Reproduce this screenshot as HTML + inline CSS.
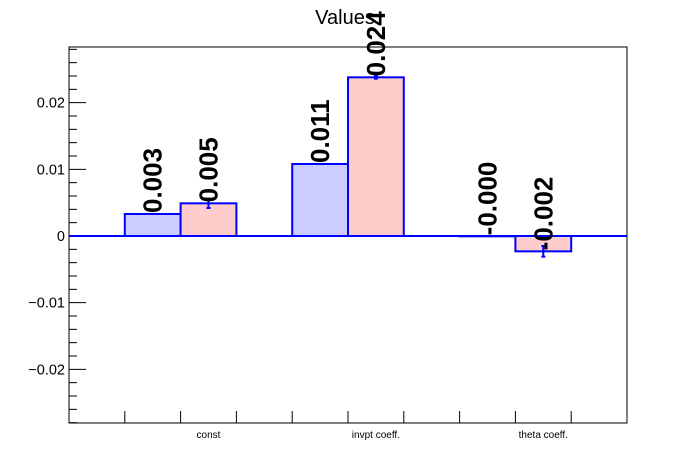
<!DOCTYPE html>
<html><head><meta charset="utf-8"><style>
html,body{margin:0;padding:0;background:#fff;}
svg{display:block;font-family:"Liberation Sans",sans-serif;}
</style></head><body>
<svg id="chart" width="696" height="472" viewBox="0 0 696 472"></svg>
<script>
const categories = ["const", "invpt coeff.", "theta coeff."];
const series1Values = [0.0033, 0.0108, -0.00005];
const series2Values = [0.0049, 0.0238, -0.0023];
const series2Errors = [0.0007, 0.0002, 0.0008];
const series1Labels = ["0.003", "0.011", "-0.000"];
const series2Labels = ["0.005", "0.024", "-0.002"];
const yTickValues = [-0.02, -0.01, 0, 0.01, 0.02];
const yTickLabels = ["\u22120.02", "\u22120.01", "0", "0.01", "0.02"];
const series1Bin = [1, 4, 7];
const series2Bin = [2, 5, 8];

const NS = "http://www.w3.org/2000/svg";
const svg = document.getElementById("chart");
const X0 = 69, X1 = 627, Y0 = 47, Y1 = 423;
const yMin = -0.02805, yMax = 0.02835;
const nBins = 10;
const binW = (X1 - X0) / nBins;
function yScale(v){ return Y1 - (v - yMin) / (yMax - yMin) * (Y1 - Y0); }
function xBin(b){ return X0 + b * binW; }
function mk(tag, attrs, parent){
  const e = document.createElementNS(NS, tag);
  for (const k in attrs) e.setAttribute(k, attrs[k]);
  (parent || svg).appendChild(e);
  return e;
}

const title = mk("text", {x: 345, y: 24, "text-anchor": "middle", "font-size": 20, fill: "#000"});
title.textContent = "Values";



const frame = mk("rect", {x: X0, y: Y0, width: X1 - X0, height: Y1 - Y0, fill: "none", stroke: "#000", "stroke-width": 1});



const yAxis = mk("g", {});


for (let i = -14; i <= 14; i++) {
  const v = i * 0.002;
  if (v < yMin || v > yMax) continue;
  const y = yScale(v);
  const major = (i % 5 === 0);
  mk("line", {x1: X0, x2: X0 + (major ? 17 : 8), y1: y, y2: y, stroke: "#000", "stroke-width": 1}, yAxis);
}
yTickValues.forEach((v, i) => {
  const t = mk("text", {x: 65, y: yScale(v) + 5, "text-anchor": "end", "font-size": 14.5, fill: "#000"}, yAxis);
  t.textContent = yTickLabels[i];
  
  
});

const xAxis = mk("g", {});


for (let b = 1; b < nBins; b++) {
  mk("line", {x1: xBin(b), x2: xBin(b), y1: Y1, y2: Y1 - 12, stroke: "#000", "stroke-width": 1}, xAxis);
}
categories.forEach((c, i) => {
  const t = mk("text", {x: xBin(i * 3 + 2.5), y: 438, "text-anchor": "middle", "font-size": 10, fill: "#000"}, xAxis);
  t.textContent = c;
  
  
});

function drawBar(bin, v, fill, name){
  const y0 = yScale(0), y = yScale(v);
  const r = mk("rect", {x: xBin(bin), y: Math.min(y, y0), width: binW, height: Math.abs(y - y0), fill: fill, stroke: "#0000ff", "stroke-width": 2});
  
  
}
function drawLabel(bin, v, txt, name){
  const cx = xBin(bin + 0.5), y = yScale(v) - 1;
  const t = mk("text", {x: 0, y: 0, transform: `translate(${cx + 9},${y}) rotate(-90)`, "font-size": 26, "font-weight": "bold", fill: "#000"});
  t.textContent = txt;
  
  
}

series1Values.forEach((v, i) => drawBar(series1Bin[i], v, "#ccccff", "bar-series1-" + i));
series2Values.forEach((v, i) => drawBar(series2Bin[i], v, "#ffcccc", "bar-series2-" + i));

const zl = mk("line", {x1: X0, x2: X1, y1: yScale(0), y2: yScale(0), stroke: "#0000ff", "stroke-width": 2});



series2Values.forEach((v, i) => {
  const cx = xBin(series2Bin[i] + 0.5);
  const g = mk("g", {stroke: "#0000ff", "stroke-width": 2});
  
  
  const ya = yScale(v + series2Errors[i]), yb = yScale(v - series2Errors[i]);
  mk("line", {x1: cx, x2: cx, y1: ya, y2: yb}, g);
  mk("line", {x1: cx - 2, x2: cx + 2, y1: ya, y2: ya}, g);
  mk("line", {x1: cx - 2, x2: cx + 2, y1: yb, y2: yb}, g);
});

series1Values.forEach((v, i) => drawLabel(series1Bin[i], v, series1Labels[i], "value-label-series1"));
series2Values.forEach((v, i) => drawLabel(series2Bin[i], v, series2Labels[i], "value-label-series2"));
</script>
</body></html>
